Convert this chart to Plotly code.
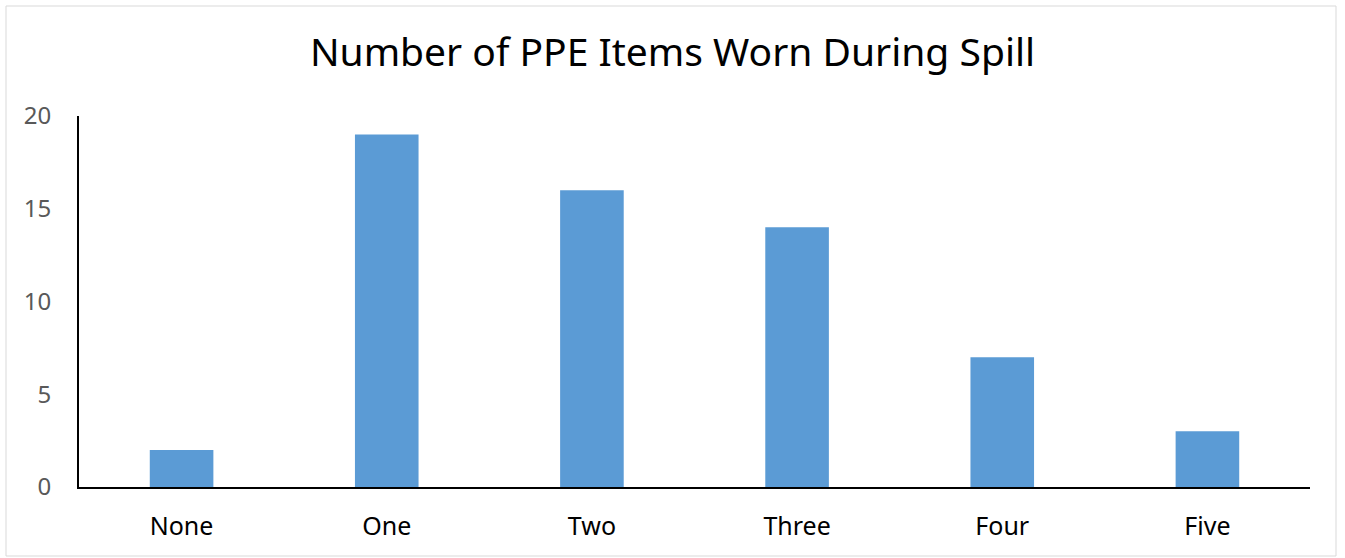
import plotly.graph_objects as go

categories = ["None", "One", "Two", "Three", "Four", "Five"]
counts = [2, 19, 16, 14, 7, 3]
y_ticks = [0, 5, 10, 15, 20]

fig = go.Figure(go.Bar(x=categories, y=counts, marker=dict(color="#5B9BD5", line=dict(width=0))))

fig.update_layout(
    width=1345, height=558,
    margin=dict(l=79, r=35, t=116, b=71),
    paper_bgcolor="white", plot_bgcolor="white",
    font=dict(family="Noto Sans", color="#595959"),
    title=dict(text="Number of PPE Items Worn During Spill", x=0.5, xanchor="center",
               y=1 - 52/558, yref="container", yanchor="middle",
               font=dict(size=39, color="black", family="Noto Sans")),
    bargap=0.69,
    showlegend=False,
    shapes=[dict(type="rect", xref="paper", yref="paper",
                 x0=(6-79)/1231, x1=(1336-79)/1231, y0=(487-556)/371, y1=(487-6)/371,
                 line=dict(color="#D9D9D9", width=1), fillcolor="rgba(0,0,0,0)", layer="below")],
)
fig.update_xaxes(showline=True, linecolor="black", linewidth=2, showgrid=False,
                 tickfont=dict(size=25, color="black"), ticks="", ticklabelstandoff=16)
fig.update_yaxes(range=[0, 20], tickvals=y_ticks, showline=True, linecolor="black", linewidth=2,
                 showgrid=False, zeroline=False, tickfont=dict(size=24, color="#595959"),
                 ticks="", ticklabelstandoff=21)

fig.write_html("out.html", config={"displayModeBar": False},
               post_script="document.body.style.margin='0px';")
